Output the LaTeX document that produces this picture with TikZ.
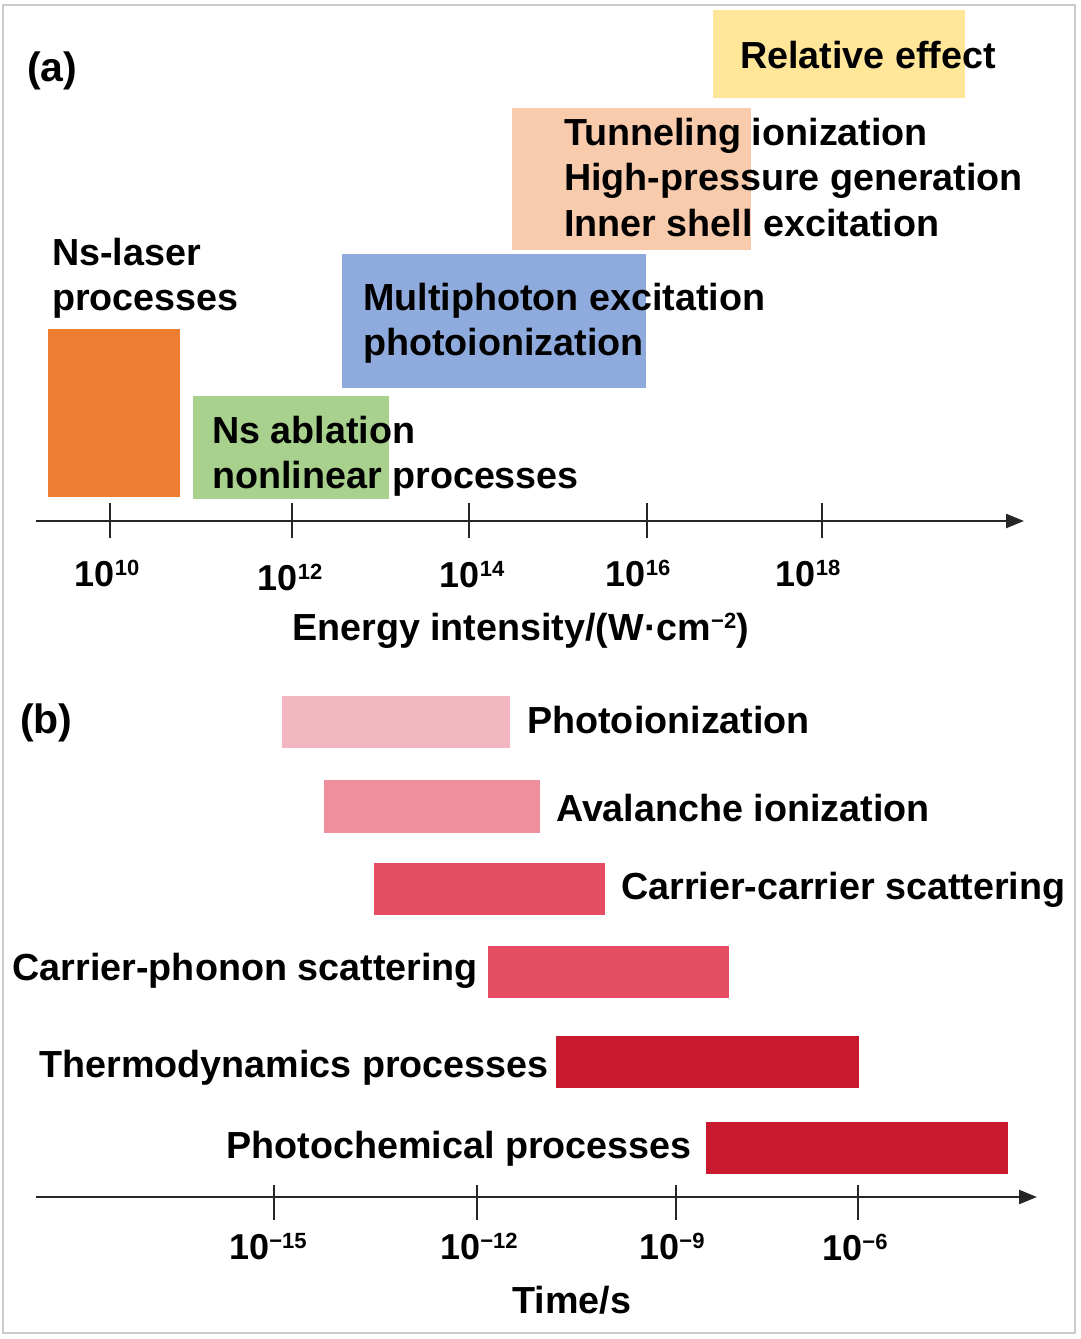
\documentclass[tikz,border=0pt]{standalone}
\usepackage{fontspec}
\setmainfont{Liberation Sans}
\usetikzlibrary{arrows.meta}
\definecolor{cOrange}{HTML}{ED7D31}
\definecolor{cGreen}{HTML}{A9D18E}
\definecolor{cBlue}{HTML}{8FAADC}
\definecolor{cPeach}{HTML}{F8CBAD}
\definecolor{cYellow}{HTML}{FFE699}
\definecolor{cPinkA}{HTML}{F2B6C1}
\definecolor{cPinkB}{HTML}{EE8F9B}
\definecolor{cRedA}{HTML}{E44D62}
\definecolor{cRedB}{HTML}{C8192F}
\definecolor{cFrame}{HTML}{CCCCCC}
\definecolor{cAxis}{HTML}{262626}
\newcommand{\mysup}[1]{\raisebox{10.5pt}{\fontsize{22}{22}\selectfont #1}}
\begin{document}
\begin{tikzpicture}[x=1pt,y=-1pt,
  lbl/.style={font=\bfseries\fontsize{37.7}{45}\selectfont, inner sep=0pt, anchor=base west, text=black},
  lblr/.style={lbl, anchor=base east},
  panellbl/.style={lbl, font=\bfseries\fontsize{41}{45}\selectfont},
  ticklbl/.style={font=\bfseries\fontsize{36}{40}\selectfont, inner sep=0pt, anchor=base},
  axisline/.style={draw=cAxis, line width=2.4pt, -{Triangle[length=18pt,width=14pt]}},
  tickline/.style={draw=cAxis, line width=2.4pt}]
\useasboundingbox (0,0) rectangle (1080,1339);
\draw[cFrame, line width=2pt] (3,5) rectangle (1075,1333);

% ---- panel (a) boxes
\fill[cOrange] (48,329) rectangle (180,497);
\fill[cGreen] (193,396) rectangle (389,499);
\fill[cBlue] (342,254) rectangle (646,388);
\fill[cPeach] (512,108) rectangle (751,250);
\fill[cYellow] (713,10) rectangle (965,98);

\node[panellbl] (la) at (27,81) {(a)};
\node[lbl] (rel) at (740,68) {Relative effect};
\node[lbl] (tun) at (564,145) {Tunneling ionization};
\node[lbl] (hpg) at (564,190) {High-pressure generation};
\node[lbl] (ise) at (564,236) {Inner shell excitation};
\node[lbl] (nsl1) at (52,265) {Ns-laser};
\node[lbl] (nsl2) at (52,310) {processes};
\node[lbl] (mpe1) at (363,310) {Multiphoton excitation};
\node[lbl] (mpe2) at (363,355) {photoionization};
\node[lbl] (nsa1) at (212,443) {Ns ablation};
\node[lbl] (nsa2) at (212,488) {nonlinear processes};

% ---- axis (a)
\coordinate (ea0) at (36,521);
\coordinate (ea1) at (1024,521);
\draw[axisline] (ea0) -- (ea1);
\foreach \x in {110,292,469,647,822}{
  \draw[tickline] (\x,503) -- (\x,538);
}
\node[ticklbl] (e10) at (107,586) {10\mysup{10}};
\node[ticklbl] (e12) at (290,590) {10\mysup{12}};
\node[ticklbl] (e14) at (472,587) {10\mysup{14}};
\node[ticklbl] (e16) at (638,586) {10\mysup{16}};
\node[ticklbl] (e18) at (808,586) {10\mysup{18}};
\node[lbl] (elabel) at (292,640) {Energy intensity/(W·cm\raisebox{12pt}{\fontsize{22}{22}\selectfont −2})};

% ---- panel (b) bars
\fill[cPinkA] (282,696) rectangle (510,748);
\fill[cPinkB] (324,780) rectangle (540,833);
\fill[cRedA] (374,863) rectangle (605,915);
\fill[cRedA] (488,946) rectangle (729,998);
\fill[cRedB] (556,1036) rectangle (859,1088);
\fill[cRedB] (706,1122) rectangle (1008,1174);

\node[panellbl] (lb) at (20,733) {(b)};
\node[lbl] (pi) at (527,733) {Photoionization};
\node[lbl] (av) at (556,821) {Avalanche ionization};
\node[lbl] (cc) at (621,899) {Carrier-carrier scattering};
\node[lblr] (cp) at (478,980) {Carrier-phonon scattering};
\node[lblr] (th) at (549,1077) {Thermodynamics processes};
\node[lblr] (pc) at (692,1158) {Photochemical processes};

% ---- axis (b)
\coordinate (tb0) at (36,1197);
\coordinate (tb1) at (1037,1197);
\draw[axisline] (tb0) -- (tb1);
\foreach \x in {274,477,676,858}{
  \draw[tickline] (\x,1185) -- (\x,1220);
}
\node[ticklbl] (t15) at (268,1259) {10\mysup{−15}};
\node[ticklbl] (t12) at (479,1259) {10\mysup{−12}};
\node[ticklbl] (t9) at (672,1259) {10\mysup{−9}};
\node[ticklbl] (t6) at (855,1260) {10\mysup{−6}};
\node[lbl, anchor=base] (tlabel) at (572,1313) {Time/s};
\end{tikzpicture}
\end{document}
